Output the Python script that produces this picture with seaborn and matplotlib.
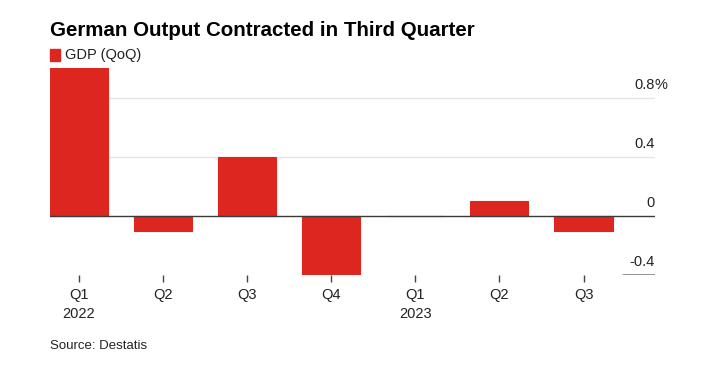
import matplotlib
matplotlib.use("Agg")
import matplotlib.pyplot as plt
import matplotlib.transforms as mtransforms
import seaborn as sns
import pandas as pd

# GDP change, quarter over quarter (%)
quarters = ["Q1 2022", "Q2 2022", "Q3 2022", "Q4 2022", "Q1 2023", "Q2 2023", "Q3 2023"]
gdp_qoq = [1.0, -0.1, 0.4, -0.4, 0.0, 0.1, -0.1]
tick_labels = ["Q1\n2022", "Q2", "Q3", "Q4", "Q1\n2023", "Q2", "Q3"]
y_ticks = [0.8, 0.4, 0, -0.4]
y_tick_labels = ["0.8", "0.4", "0", "-0.4"]

red = "#de2620"
sns.set_style("white")
plt.rcParams["font.family"] = ["Liberation Sans", "DejaVu Sans"]

df = pd.DataFrame({"quarter": quarters, "gdp": gdp_qoq})

fig = plt.figure(figsize=(7.1, 3.8), dpi=100)
ax = fig.add_axes([0.0704, 0.2763, 0.9225 - 0.0704, 0.8211 - 0.2763])

# light gridlines behind the bars
for t in y_ticks[:2]:
    ax.axhline(t, color="#e4e4e4", lw=1, zorder=0)

sns.barplot(data=df, x="quarter", y="gdp", color=red, saturation=1,
            width=0.69, edgecolor=red, linewidth=0.8, ax=ax, zorder=2)

ax.axhline(0, color="#3a3a3a", lw=1, zorder=3)
ax.axhline(-0.4, xmin=0.947, xmax=1.0, color="#8a8a8a", lw=2, zorder=3)

ax.set_xlim(-0.345, 6.85)
ax.set_ylim(-0.4, 1.0)
for s in ax.spines.values():
    s.set_visible(False)

ax.set_xlabel("")
ax.set_ylabel("")
ax.set_yticks([])
ax.set_xticks(range(len(quarters)))
ax.set_xticklabels(tick_labels, fontsize=10.5, color="#222222", linespacing=1.5)
ax.tick_params(axis="x", bottom=True, length=5, width=1, color="#444444",
               pad=4, direction="out")

# y labels sit above their gridlines at the right edge
trans = mtransforms.blended_transform_factory(ax.transAxes, ax.transData)
off = mtransforms.offset_copy(trans, fig=fig, y=4, units="points")
for t, lab in zip(y_ticks, y_tick_labels):
    ax.text(1.0, t, lab, transform=off, ha="right", va="bottom",
            fontsize=10.5, color="#222222")
ax.text(1.0, y_ticks[0], "%", transform=off, ha="left", va="bottom",
        fontsize=10.5, color="#222222")

fig.text(0.0704, 0.92, "German Output Contracted in Third Quarter",
         fontsize=14.8, fontweight="bold", color="#000000", va="center")
fig.patches.append(plt.Rectangle((50 / 710, 1 - 61 / 380), 10 / 710, 12 / 380,
                                 transform=fig.transFigure, color=red))
fig.text(65 / 710, 1 - 55 / 380, "GDP (QoQ)", fontsize=10.5, color="#222222", va="center")
fig.text(0.0704, 1 - 346 / 380, "Source: Destatis", fontsize=9.5, color="#222222", va="center")

fig.savefig("out.png", dpi=100)
